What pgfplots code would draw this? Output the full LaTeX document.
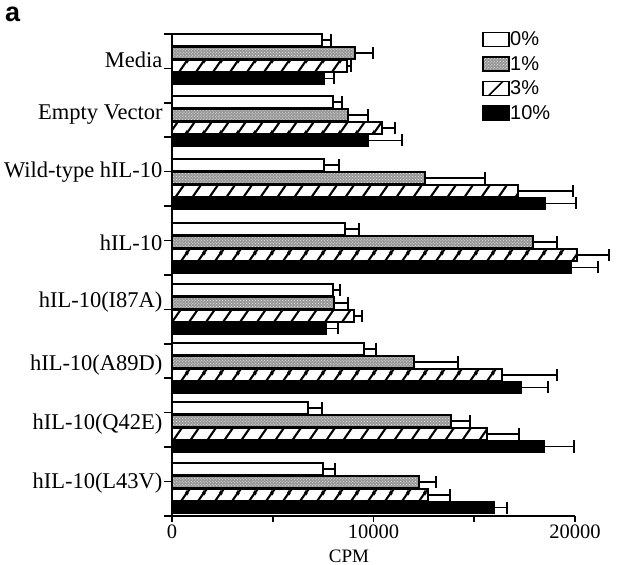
\documentclass[border=0pt]{standalone}
\usepackage{pgfplots}
\usepackage{pgfplotstable}
\pgfplotsset{compat=1.18}
\usepackage{fontspec}
\setmainfont{Liberation Serif}
\newfontfamily\sansf{Liberation Sans}
\usetikzlibrary{patterns}

\pgfdeclarepatternformonly{hatchwide}{\pgfqpoint{0bp}{0bp}}{\pgfqpoint{17bp}{24bp}}{\pgfqpoint{17bp}{24bp}}{%
 \pgfsetlinewidth{2.2bp}%
 \pgfpathmoveto{\pgfqpoint{-1bp}{-1.41bp}}\pgfpathlineto{\pgfqpoint{18bp}{25.41bp}}%
 \pgfpathmoveto{\pgfqpoint{-18bp}{-1.41bp}}\pgfpathlineto{\pgfqpoint{1bp}{25.41bp}}%
 \pgfpathmoveto{\pgfqpoint{16bp}{-1.41bp}}\pgfpathlineto{\pgfqpoint{35bp}{25.41bp}}%
 \pgfusepath{stroke}}

\pgfplotsset{
  mybar/.style={xbar, bar width=12, bar shift=0pt, draw=black, line width=1.6bp, forget plot},
  myerr/.style={error bars/.cd, x dir=plus, x explicit,
    error bar style={line width=1.6bp, black, solid},
    error mark options={line width=1.6bp, black, mark size=6bp, rotate=90}},
}

% y = -(pixel row of bar centre)
\pgfplotstableread{
y v e
-40 7444 447
-102 7990 447
-165 7544 744
-229 8587 695
-290 7990 347
-349 9529 596
-408 6750 695
-469 7494 596
}\tzero
\pgfplotstableread{
y v e
-53 9082 893
-115 8735 993
-178 12557 2978
-242 17917 1191
-303 8040 695
-362 12011 2184
-421 13847 943
-482 12259 844
}\tone
\pgfplotstableread{
y v e
-66 8685 199
-128 10422 645
-191 17173 2730
-255 20100 1588
-316 9033 397
-375 16378 2730
-434 15634 1588
-495 12706 1092
}\tthree
\pgfplotstableread{
y v e
-78.5 7544 496
-140.5 9727 1687
-203.5 18513 1539
-267.5 19803 1340
-328.5 7644 596
-387.5 17321 1340
-446.5 18463 1489
-507.5 15981 645
}\tten

\begin{document}
\begin{tikzpicture}
\useasboundingbox (-172bp,-49bp) rectangle (449bp,516bp);
\begin{axis}[
  at={(0,0)}, anchor=south west, scale only axis,
  width=403bp, height=482bp,
  xmin=0, xmax=20000, ymin=-516, ymax=-34,
  axis lines*=left,
  axis line style={line width=1.8bp},
  clip=false,
  tick align=outside,
  scaled x ticks=false,
  xtick={0,5000,10000,15000,20000},
  xticklabels={0,,10000,,20000},
  major tick length=6bp,
  minor tick length=8bp,
  tick style={line width=1.6bp, black},
  ytick={-60,-115,-172,-243,-302,-365,-424,-483},
  yticklabels={Media,Empty Vector,Wild-type hIL-10,hIL-10,hIL-10(I87A),hIL-10(A89D),hIL-10(Q42E),hIL-10(L43V)},
  major y tick style={draw=none},
  minor ytick={-34,-68.4,-102.9,-137.3,-171.7,-206.1,-240.6,-275,-309.4,-343.9,-378.3,-412.7,-447.1,-481.6,-516},
  yticklabel style={font={\fontsize{22.5bp}{26bp}\selectfont}, anchor=east, xshift=0bp},
  xticklabel style={font={\fontsize{20.5bp}{24bp}\selectfont}, anchor=base, yshift=-16bp},
  xlabel={CPM},
  xlabel style={font={\fontsize{19bp}{22bp}\selectfont}, at={(axis description cs:0.439,0)}, anchor=base, yshift=-46bp},
  legend style={at={(axis description cs:0.769,1.006)}, anchor=north west, draw=none, fill=none,
    font={\sansf\fontsize{20bp}{24bp}\selectfont}, row sep=8bp, inner sep=0pt,
    nodes={inner sep=0.5bp}},
  legend cell align=left,
]
\addplot[mybar, fill=white, myerr] table[x=v, y=y, x error=e] {\tzero};
\addplot[mybar, fill={rgb,255:red,150;green,150;blue,150}, postaction={pattern=crosshatch dots, pattern color=white!85!gray}, myerr] table[x=v, y=y, x error=e] {\tone};
\addplot[mybar, fill=white, postaction={pattern=hatchwide}, myerr] table[x=v, y=y, x error=e] {\tthree};
\addplot[mybar, fill=black, myerr] table[x=v, y=y, x error=e] {\tten};

\addlegendimage{legend image code/.code={\draw[line width=1.6bp, fill=white] (0bp,-7bp) rectangle (26bp,7bp);}}
\addlegendentry{0\%}
\addlegendimage{legend image code/.code={\draw[line width=1.6bp, fill={rgb,255:red,150;green,150;blue,150}, postaction={pattern=crosshatch dots, pattern color=white!85!gray}] (0bp,-7bp) rectangle (26bp,7bp);}}
\addlegendentry{1\%}
\addlegendimage{legend image code/.code={\draw[line width=1.6bp, fill=white] (0bp,-7bp) rectangle (26bp,7bp); \draw[line width=1.6bp] (6bp,-7bp) -- (20bp,7bp);}}
\addlegendentry{3\%}
\addlegendimage{legend image code/.code={\draw[line width=1.6bp, fill=black] (0bp,-7bp) rectangle (26bp,7bp);}}
\addlegendentry{10\%}
\end{axis}
\node[anchor=base west, font={\sansf\bfseries\fontsize{27bp}{30bp}\selectfont}, inner sep=0pt] at (-167bp,494bp) {a};
\end{tikzpicture}
\end{document}
